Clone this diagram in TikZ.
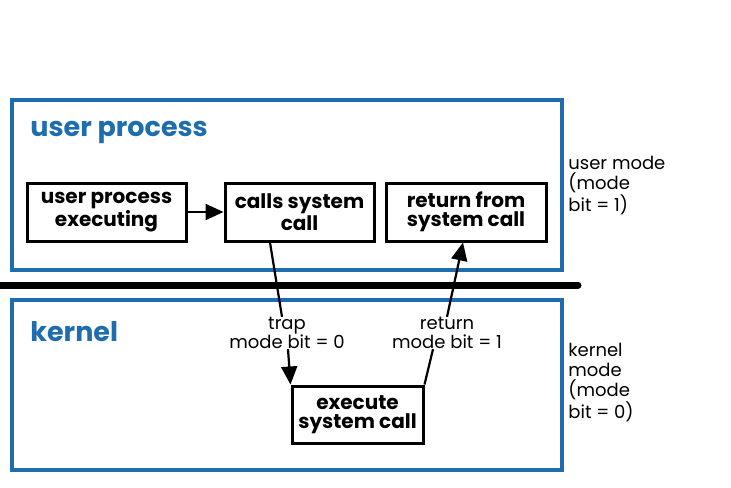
\documentclass[tikz,border=0pt]{standalone}
\usepackage{fontspec}
\setmainfont{Poppins}
\usetikzlibrary{arrows, arrows.meta, positioning}
\definecolor{procblue}{RGB}{30,110,175}
\tikzstyle{block}=[draw, rectangle, line width=1.5pt, align=center, inner sep=0pt, font=\bfseries\fontsize{10}{9.5}\selectfont]
\tikzstyle{region}=[draw=procblue, line width=2pt]
\tikzstyle{title}=[anchor=west, inner sep=0pt, text=procblue, font=\bfseries\fontsize{13.5}{15}\selectfont]
\tikzstyle{note}=[align=center, inner sep=0pt, font=\fontsize{9}{9.5}\selectfont]
\tikzstyle{side}=[align=left, anchor=north west, inner sep=0pt, font=\fontsize{9}{10}\selectfont]
\tikzstyle{link}=[line width=1.1pt, >={Triangle[length=9pt, width=8pt]}]

\begin{document}
\begin{tikzpicture}[x=0.5pt, y=-0.5pt]
		\useasboundingbox (0,0) rectangle (731,487);
		\draw[region] (12,100) rectangle (562,270);
		\draw[region] (12,300) rectangle (562,470);
		\draw[line width=3.5pt, line cap=round] (0,285) -- (578,285);
		\node[title] (U) at (30,132) {user process};
		\node[title] (K) at (30,332) {kernel};
		\node[block, minimum width=79.5pt, minimum height=29pt] (A) at (106.5,212) {user process\\executing};
		\node[block, minimum width=74.5pt, minimum height=29pt] (B) at (299.5,212) {calls system\\call};
		\node[block, minimum width=80pt, minimum height=29pt] (C) at (466,212) {return from\\system call};
		\node[block, minimum width=65.5pt, minimum height=28.5pt] (D) at (357.5,414.5) {execute\\system call};
		\node[note] (T) at (287,333) {trap\\mode bit = 0};
		\node[note] (R) at (447,333) {return\\mode bit = 1};
		\node[side] (UM) at (568,156) {user mode\\(mode\\bit = 1)};
		\node[side] (KM) at (568,343) {kernel\\mode\\(mode\\bit = 0)};
		\draw[link, ->] (A) -- (B);
		\draw[link] ([xshift=-14.75pt]B.south) -- ([xshift=-2.5pt]T.north);
		\draw[link, ->] ([xshift=0.5pt]T.south) -- (D.north west);
		\draw[link] (D.north east) -- ([xshift=-7pt]R.south);
		\draw[link, ->] (R.north) -- ([xshift=-1.5pt]C.south);
	\end{tikzpicture}
\end{document}
